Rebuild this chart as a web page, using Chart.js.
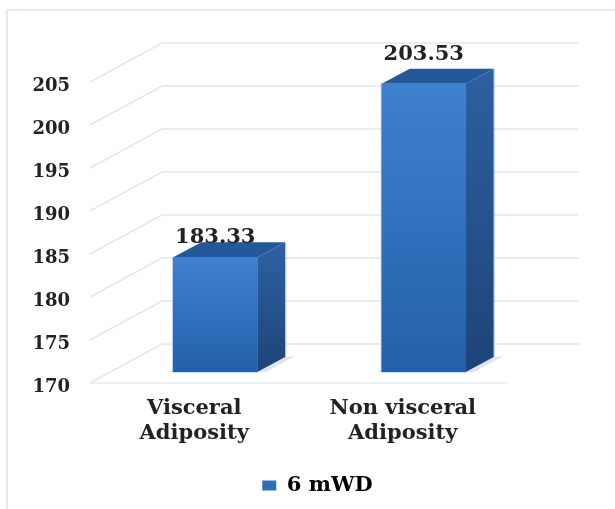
<!DOCTYPE html>
<html>
<head>
<meta charset="utf-8">
<title>6 mWD</title>
<script src="https://cdn.jsdelivr.net/npm/chart.js@4/dist/chart.umd.min.js"></script>
<style>
  html, body { margin: 0; padding: 0; background: #fff; overflow: hidden; }
  #wrap { position: relative; width: 615px; height: 509px; }
  #frame { position: absolute; left: 6px; top: 9px; right: 0; bottom: 0;
           border-top: 2px solid #e3e8f3; border-left: 2px solid #e3e8f3; }
  canvas { position: absolute; left: 0; top: 0; }
</style>
</head>
<body>
<div id="wrap">
  <div id="frame"></div>
  <canvas id="walkChart" width="615" height="509"></canvas>
</div>
<script>
const categories = [['Visceral', 'Adiposity'], ['Non visceral', 'Adiposity']];
const seriesName = '6 mWD';
const walkValues = [183.33, 203.53];
const valueLabels = ['183.33', '203.53'];

const FONT = '"DejaVu Serif", serif';
const TEXT = '#222';
const AXIS_MIN = 170;
const AXIS_MAX = 205;

// fake perspective: back wall sits up and to the right of the front plane
const WALL_DX = 72, WALL_DY = 39;
// bars stand part way between the front plane and the wall
const BAR_DX = 21, BAR_DY = 11;
// top and side faces of each bar
const DEPTH_X = 28, DEPTH_Y = 15;
const labelLift = [20, 29];

const ctx = document.getElementById('walkChart').getContext('2d');

// each bar gets its own top-to-bottom gradient
function frontGradient(context) {
  if (context.raw === undefined) return '#2e6fbb';
  const y = context.chart.scales.y;
  const g = context.chart.ctx.createLinearGradient(0, y.getPixelForValue(context.raw), 0, y.getPixelForValue(AXIS_MIN));
  g.addColorStop(0, '#3f80cf');
  g.addColorStop(1, '#2260a9');
  return g;
}

function poly(c, pts, fill) {
  c.beginPath();
  pts.forEach((p, i) => i ? c.lineTo(p[0], p[1]) : c.moveTo(p[0], p[1]));
  c.closePath();
  c.fillStyle = fill;
  c.fill();
}

// gridlines run along the side wall and then across the back wall
const wallGrid = {
  id: 'wallGrid',
  beforeDatasetsDraw(chart) {
    const { ctx: c, chartArea: a, scales: { y } } = chart;
    c.save();
    c.strokeStyle = '#e4e6f1';
    c.lineWidth = 1.5;
    y.ticks.forEach(t => {
      const py = y.getPixelForValue(t.value);
      c.beginPath();
      c.moveTo(a.left, py);
      c.lineTo(a.left + WALL_DX, py - WALL_DY);
      c.lineTo(a.right + WALL_DX, py - WALL_DY);
      c.stroke();
    });
    const floor = y.getPixelForValue(y.min);
    c.strokeStyle = '#e2e8f4';
    c.beginPath();
    c.moveTo(a.left, floor);
    c.lineTo(a.right, floor);
    c.stroke();
    c.restore();
  }
};

// side and top faces, plus the shift that applies to the bars themselves
const bar3d = {
  id: 'bar3d',
  beforeDatasetsDraw(chart) {
    const c = chart.ctx;
    const meta = chart.getDatasetMeta(0);
    c.save();
    c.translate(BAR_DX, -BAR_DY);
    meta.data.forEach(bar => {
      const { x, y, base, width } = bar.getProps(['x', 'y', 'base', 'width'], true);
      const l = x - width / 2, r = x + width / 2;
      // floor shadow
      poly(c, [[r, base], [r + DEPTH_X, base - DEPTH_Y], [r + DEPTH_X + 10, base - DEPTH_Y - 1], [r + 8, base]], '#dfe3ea');
      poly(c, [[l - 6, base], [l, base - 2], [l, base]], '#dfe3ea');
      const side = c.createLinearGradient(0, y, 0, base);
      side.addColorStop(0, '#2b5f9f');
      side.addColorStop(1, '#1d4477');
      poly(c, [[r, y], [r + DEPTH_X, y - DEPTH_Y], [r + DEPTH_X, base - DEPTH_Y], [r, base]], side);
      poly(c, [[l, y], [l + DEPTH_X, y - DEPTH_Y], [r + DEPTH_X, y - DEPTH_Y], [r, y]], '#25589b');
      // pale rim down the outer edges
      c.strokeStyle = 'rgba(150,190,232,0.7)';
      c.lineWidth = 1;
      c.beginPath();
      c.moveTo(l - 0.5, y);
      c.lineTo(l - 0.5, base);
      c.moveTo(r + DEPTH_X + 0.5, y - DEPTH_Y);
      c.lineTo(r + DEPTH_X + 0.5, base - DEPTH_Y);
      c.stroke();
    });
  },
  afterDatasetsDraw(chart) {
    const c = chart.ctx;
    c.restore();
    const meta = chart.getDatasetMeta(0);
    c.save();
    c.font = 'bold 21px ' + FONT;
    c.fillStyle = TEXT;
    c.textAlign = 'center';
    c.textBaseline = 'middle';
    meta.data.forEach((bar, i) => {
      const { x, y } = bar.getProps(['x', 'y'], true);
      c.fillText(valueLabels[i], x + BAR_DX, y - BAR_DY - labelLift[i]);
    });
    c.restore();
  }
};

// legend is centred on the page rather than on the plot
const legendShift = {
  id: 'legendShift',
  afterLayout(chart) {
    chart.legend.left += 64;
    chart.legend.right += 64;
  }
};

new Chart(ctx, {
  type: 'bar',
  data: {
    labels: categories,
    datasets: [{
      label: seriesName,
      data: walkValues,
      base: AXIS_MIN,
      backgroundColor: frontGradient,
      borderWidth: 0,
      barThickness: 84,
      clip: false
    }]
  },
  plugins: [wallGrid, bar3d, legendShift],
  options: {
    responsive: false,
    animation: false,
    layout: { padding: { top: 82, right: 108, bottom: 3, left: 0 } },
    scales: {
      x: {
        border: { display: false },
        grid: { display: false, drawTicks: false },
        ticks: {
          color: TEXT,
          padding: 13,
          maxRotation: 0,
          autoSkip: false,
          font: { family: FONT, weight: 'bold', size: 21, lineHeight: 1.19 }
        },
        afterFit(scale) { scale.height = 82; }
      },
      y: {
        min: AXIS_MIN,
        max: AXIS_MAX,
        border: { display: false },
        grid: { display: false, drawTicks: false },
        ticks: {
          stepSize: 5,
          color: TEXT,
          padding: 20,
          labelOffset: 4,
          font: { family: FONT, weight: 'bold', size: 18 }
        },
        afterFit(scale) { scale.width = 90; }
      }
    },
    plugins: {
      tooltip: { enabled: false },
      legend: {
        position: 'bottom',
        labels: {
          boxWidth: 14,
          boxHeight: 10,
          color: TEXT,
          font: { family: FONT, weight: 'bold', size: 21 },
          generateLabels(chart) {
            return [{ text: seriesName, fillStyle: '#2e6fbb', strokeStyle: '#2e6fbb', lineWidth: 0, datasetIndex: 0 }];
          }
        }
      }
    }
  }
});
</script>
</body>
</html>
